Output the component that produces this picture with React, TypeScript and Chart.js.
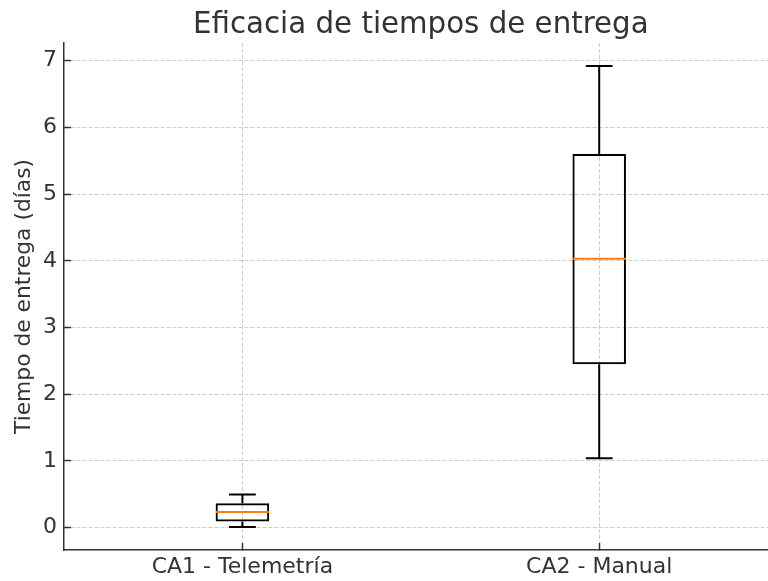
import React, { useEffect, useRef } from "react";
import { Chart, registerables } from "chart.js";

Chart.register(...registerables);

const categories = ["CA1 - Telemetría", "CA2 - Manual"];
const whiskerLow = [0.01, 1.04];
const q1 = [0.09, 2.45];
const median = [0.235, 4.03];
const q3 = [0.364, 5.6];
const whiskerHigh = [0.495, 6.92];
const yTicks = [0, 1, 2, 3, 4, 5, 6, 7];

const BOX_WIDTH = 0.15; // in category units
const CAP_HALF = BOX_WIDTH / 4;
const MED_HALF = BOX_WIDTH / 2;

const TEXT = "#333333";
const FONT = "'DejaVu Sans', sans-serif";

export default function App() {
  const ref = useRef<HTMLCanvasElement | null>(null);

  useEffect(() => {
    if (!ref.current) return;
    const xPos = categories.map((_, i) => i + 1);

    const boxes = xPos.map((x, i) => ({ x, y: [q1[i], q3[i]] }));

    const whiskers: any[] = [];
    xPos.forEach((x, i) => {
      whiskers.push({ x, y: q3[i] }, { x, y: whiskerHigh[i] }, { x, y: null });
      whiskers.push({ x, y: q1[i] }, { x, y: whiskerLow[i] }, { x, y: null });
      whiskers.push({ x: x - CAP_HALF, y: whiskerHigh[i] }, { x: x + CAP_HALF, y: whiskerHigh[i] }, { x, y: null });
      whiskers.push({ x: x - CAP_HALF, y: whiskerLow[i] }, { x: x + CAP_HALF, y: whiskerLow[i] }, { x, y: null });
    });

    const medians: any[] = [];
    xPos.forEach((x, i) => {
      medians.push({ x: x - MED_HALF, y: median[i] }, { x: x + MED_HALF, y: median[i] }, { x, y: null });
    });

    const dataMin = Math.min(...whiskerLow);
    const dataMax = Math.max(...whiskerHigh);
    const margin = (dataMax - dataMin) * 0.05;

    const chart = new Chart(ref.current, {
      type: "bar",
      data: {
        datasets: [
          {
            type: "bar",
            data: boxes as any,
            backgroundColor: "rgba(0,0,0,0)",
            borderColor: "#000000",
            borderWidth: 2,
            borderSkipped: false,
            barPercentage: BOX_WIDTH,
            categoryPercentage: 1,
            order: 3,
          } as any,
          {
            type: "line",
            data: whiskers,
            borderColor: "#000000",
            borderWidth: 2,
            pointRadius: 0,
            spanGaps: false,
            tension: 0,
            order: 2,
          } as any,
          {
            type: "line",
            data: medians,
            borderColor: "#ff7f0e",
            borderWidth: 2,
            pointRadius: 0,
            spanGaps: false,
            tension: 0,
            order: 1,
          } as any,
        ],
      },
      options: {
        responsive: false,
        animation: false,
        devicePixelRatio: 1,
        layout: { padding: { left: 0, right: 12.4, top: 0, bottom: 0 } },
        plugins: {
          legend: { display: false },
          tooltip: { enabled: false },
          title: { display: false },
        },
        scales: {
          x: {
            type: "linear",
            position: "bottom",
            min: 0.5,
            max: 2.5,
            offset: false,
            afterBuildTicks: (s: any) => {
              s.ticks = xPos.map((v) => ({ value: v }));
            },
            afterFit: (s: any) => {
              s.height = 31;
            },
            ticks: {
              color: TEXT,
              font: { family: FONT, size: 22 },
              padding: 11,
              maxRotation: 0,
              autoSkip: false,
              callback: (v: any) => categories[Math.round(Number(v)) - 1] ?? "",
            },
            grid: {
              offset: false,
              color: "#cccccc",
              lineWidth: 1,
              tickLength: -7,
              tickColor: TEXT,
              tickWidth: 1.5,
            },
            border: { display: true, color: TEXT, width: 1.5, dash: [4, 2] },
          },
          titleAxis: {
            type: "linear",
            position: "top",
            min: 0.5,
            max: 2.5,
            afterFit: (s: any) => {
              s.height = 43;
            },
            ticks: { display: false },
            grid: { display: false, drawTicks: false },
            border: { display: false },
            title: {
              display: true,
              text: "Eficacia de tiempos de entrega",
              color: TEXT,
              font: { family: FONT, size: 29.3, weight: "normal" },
              padding: { top: 7.5, bottom: 0 },
            },
          },
          y: {
            type: "linear",
            min: dataMin - margin,
            max: dataMax + margin,
            afterBuildTicks: (s: any) => {
              s.ticks = yTicks.map((v) => ({ value: v }));
            },
            afterFit: (s: any) => {
              s.width = 64;
            },
            ticks: {
              color: TEXT,
              font: { family: FONT, size: 22 },
              padding: 14,
            },
            grid: {
              color: "#cccccc",
              lineWidth: 1,
              tickLength: -7,
              tickColor: TEXT,
              tickWidth: 1.5,
            },
            border: { display: true, color: TEXT, width: 1.5, dash: [4, 2] },
            title: {
              display: true,
              text: "Tiempo de entrega (días)",
              color: TEXT,
              font: { family: FONT, size: 21.8 },
              padding: { top: 11, bottom: 0 },
            },
          },
        },
      } as any,
    });
    return () => chart.destroy();
  }, []);

  return (
    <div
      style={{
        position: "fixed",
        left: 0,
        top: 0,
        width: 768,
        height: 581,
        overflow: "hidden",
        background: "#ffffff",
      }}
    >
      <canvas ref={ref} width={790} height={581} style={{ display: "block" }} />
    </div>
  );
}
